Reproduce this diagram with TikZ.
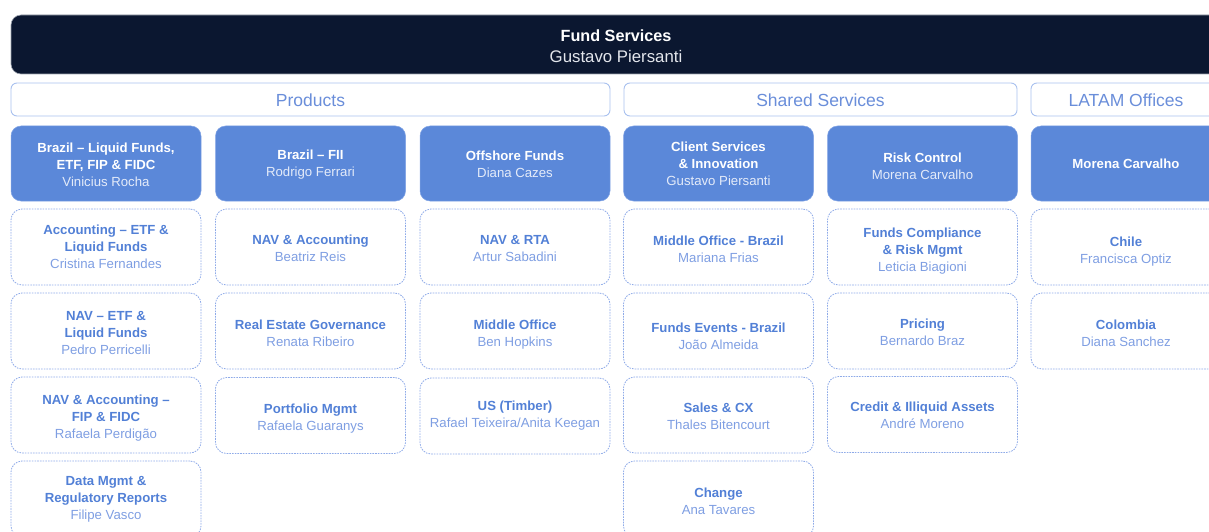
\documentclass[tikz,border=0pt]{standalone}
\usepackage{fontspec}
\setmainfont{Liberation Sans}
\definecolor{navy}{HTML}{0B1730}
\definecolor{barline}{HTML}{9CA3AF}
\definecolor{topname}{HTML}{E3E6EC}
\definecolor{leadfill}{HTML}{5B88D9}
\definecolor{leadline}{HTML}{7FA2E4}
\definecolor{leadname}{HTML}{E4EBF9}
\definecolor{hdrline}{HTML}{A9C1EF}
\definecolor{hdrtext}{HTML}{6A8EDA}
\definecolor{unitline}{HTML}{8EAAE8}
\definecolor{unittitle}{HTML}{5280D6}
\definecolor{unitname}{HTML}{7E9EE2}
\newcommand{\whoU}[1]{{\mdseries\color{unitname}#1}}
\newcommand{\whoL}[1]{{\mdseries\color{leadname}#1}}
\newcommand{\whoT}[1]{{\mdseries\color{topname}\fontsize{16.8}{21}\selectfont#1}}
% push the text block of a node down by #1 pt (enlarges the first line's height)
\newcommand{\dn}[1]{\rule{0pt}{\dimexpr9.6pt+#1pt*2\relax}}
\begin{document}
\begin{tikzpicture}[x=1pt,y=-1pt,
  topbar/.style={draw=barline, fill=navy, line width=0.6pt, rounded corners=10pt,
    minimum width=1210pt, minimum height=59pt, align=center, text=white,
    font=\fontsize{16.2}{21}\selectfont\bfseries, inner sep=0pt},
  hdr/.style={draw=hdrline, fill=white, line width=0.9pt, rounded corners=6pt,
    minimum height=33pt, text=hdrtext, font=\fontsize{17.5}{20}\selectfont, inner sep=0pt},
  lead/.style={draw=leadline, fill=leadfill, line width=0.5pt, rounded corners=10pt,
    minimum width=190pt, minimum height=75pt, align=center, text=white,
    font=\fontsize{13.2}{17}\selectfont\bfseries, inner sep=0pt},
  unit/.style={draw=unitline, line width=0.8pt, dash pattern=on 1.6pt off 1.1pt, rounded corners=11pt,
    minimum width=190pt, minimum height=76pt, align=center, text=unittitle,
    font=\fontsize{13.2}{17}\selectfont\bfseries, inner sep=0pt}
]
\useasboundingbox (0,0) rectangle (1209,532);
\clip (0,0) rectangle (1209,532);

% top bar
\node[topbar] (fs) at (616,44.5) {\rule{0pt}{15.6pt}Fund Services\\\whoT{Gustavo Piersanti}};

% headers
\node[hdr, minimum width=599pt] (prod) at (310.5,99.5) {\rule{0pt}{14.5pt}Products};
\node[hdr, minimum width=393pt] (shared) at (820.5,99.5) {\rule{0pt}{14.5pt}Shared Services};
\node[hdr, minimum width=190pt] (latam) at (1126,99.5) {\rule{0pt}{14.5pt}LATAM Offices};

% leads
\node[lead] (l1) at (106,163.5) {\dn{1}Brazil – Liquid Funds,\\ETF, FIP \& FIDC\\\whoL{Vinicius Rocha}};
\node[lead] (l2) at (310.5,163.5) {\dn{1.5}Brazil – FII\\\whoL{Rodrigo Ferrari}};
\node[lead] (l3) at (515,163.5) {\dn{1}Offshore Funds\\\whoL{Diana Cazes}};
\node[lead] (l4) at (718.5,163.5) {Client Services\\\& Innovation\\\whoL{Gustavo Piersanti}};
\node[lead] (l5) at (922.5,163.5) {\dn{2.5}Risk Control\\\whoL{Morena Carvalho}};
\node[lead] (l6) at (1126,163.5) {Morena Carvalho};

% column 1
\node[unit] (u11) at (106,247) {Accounting – ETF \&\\Liquid Funds\\\whoU{Cristina Fernandes}};
\node[unit] (u12) at (106,331) {\dn{2}NAV – ETF \&\\Liquid Funds\\\whoU{Pedro Perricelli}};
\node[unit] (u13) at (106,415) {\dn{3}NAV \& Accounting –\\FIP \& FIDC\\\whoU{Rafaela Perdigão}};
\node[unit] (u14) at (106,499) {\dn{0.5}Data Mgmt \&\\Regulatory Reports\\\whoU{Filipe Vasco}};
% column 2
\node[unit] (u21) at (310.5,247) {\dn{1.5}NAV \& Accounting\\\whoU{Beatriz Reis}};
\node[unit] (u22) at (310.5,331) {\dn{2}Real Estate Governance\\\whoU{Renata Ribeiro}};
\node[unit] (u23) at (310.5,415.5) {\dn{3}Portfolio Mgmt\\\whoU{Rafaela Guaranys}};
% column 3
\node[unit] (u31) at (515,247) {\dn{1.5}NAV \& RTA\\\whoU{Artur Sabadini}};
\node[unit] (u32) at (515,331) {\dn{3.5}Middle Office\\\whoU{Ben Hopkins}};
\node[unit] (u33) at (515,416) {US (Timber)\\\whoU{Rafael Teixeira/Anita Keegan}};
% column 4
\node[unit] (u41) at (718.5,247) {\dn{2.5}Middle Office - Brazil\\\whoU{Mariana Frias}};
\node[unit] (u42) at (718.5,331) {\dn{5.5}Funds Events - Brazil\\\whoU{João Almeida}};
\node[unit] (u43) at (718.5,415) {\dn{1}Sales \& CX\\\whoU{Thales Bitencourt}};
\node[unit] (u44) at (718.5,499) {\dn{2}Change\\\whoU{Ana Tavares}};
% column 5
\node[unit] (u51) at (922.5,247) {\dn{4.5}Funds Compliance\\\& Risk Mgmt\\\whoU{Leticia Biagioni}};
\node[unit] (u52) at (922.5,331) {\dn{1}Pricing\\\whoU{Bernardo Braz}};
\node[unit] (u53) at (922.5,414.5) {\dn{0.5}Credit \& Illiquid Assets\\\whoU{André Moreno}};
% column 6
\node[unit] (u61) at (1126,247) {\dn{4.5}Chile\\\whoU{Francisca Optiz}};
\node[unit] (u62) at (1126,331) {\dn{2}Colombia\\\whoU{Diana Sanchez}};
\end{tikzpicture}
\end{document}
